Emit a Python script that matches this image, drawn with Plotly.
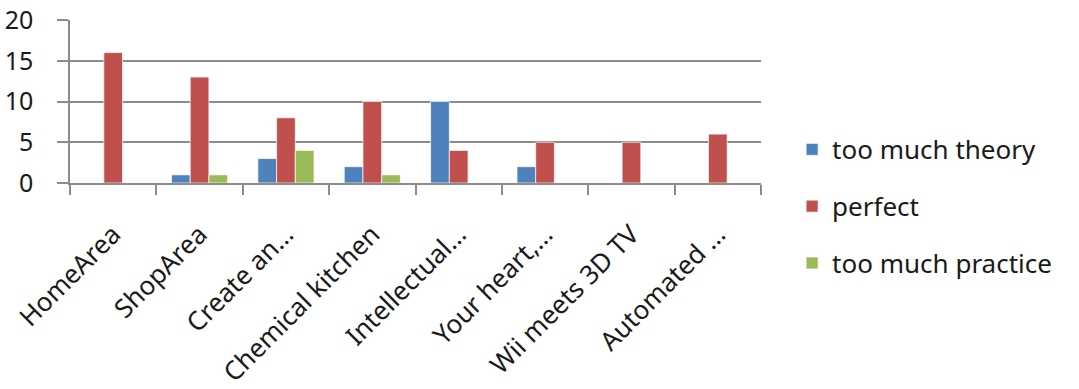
import plotly.graph_objects as go

categories = ["HomeArea", "ShopArea", "Create an…", "Chemical kitchen",
              "Intellectual…", "Your heart,…", "Wii meets 3D TV", "Automated …"]
too_much_theory = [0, 1, 3, 2, 10, 2, 0, 0]
perfect = [16, 13, 8, 10, 4, 5, 5, 6]
too_much_practice = [0, 1, 4, 1, 0, 0, 0, 0]
y_ticks = [0, 5, 10, 15, 20]

FONT = "Noto Sans"
GRID = "#8c8c8c"
TEXT = "#1a1a1a"

series = [
    ("too much theory", too_much_theory, "#4F81BD"),
    ("perfect", perfect, "#C0504D"),
    ("too much practice", too_much_practice, "#9BBB59"),
]

fig = go.Figure()
for i, (name, vals, color) in enumerate(series):
    fig.add_trace(go.Bar(
        x=categories, y=vals, name=name, legendgroup=f"g{i}",
        marker=dict(color=color, line=dict(color="rgba(255,255,255,0.7)", width=1)),
    ))

fig.update_layout(
    width=1079, height=389,
    margin=dict(l=70, r=318, t=20, b=206, autoexpand=False),
    paper_bgcolor="white", plot_bgcolor="white",
    barmode="group", bargap=0.35, bargroupgap=0,
    font=dict(family=FONT, size=26, color=TEXT),
    showlegend=True,
    legend=dict(
        x=1.045, y=0.35, xanchor="left", yanchor="top",
        traceorder="grouped", tracegroupgap=20,
        font=dict(family=FONT, size=26, color=TEXT),
        itemwidth=30,
    ),
    xaxis=dict(
        type="category", tickson="boundaries", tickangle=-45, automargin=False,
        showline=True, linecolor=GRID, linewidth=1.5,
        ticks="outside", ticklen=10, tickcolor=GRID, tickwidth=1.5,
        showgrid=False, ticklabelstandoff=24,
        tickfont=dict(family=FONT, size=26, color=TEXT),
    ),
    yaxis=dict(
        range=[0, 20], tickvals=y_ticks, automargin=False,
        showgrid=True, gridcolor=GRID, gridwidth=1.5,
        showline=True, linecolor=GRID, linewidth=1.5,
        ticks="outside", ticklen=11, tickcolor=GRID, tickwidth=1.5,
        zeroline=False, ticklabelstandoff=19,
        tickfont=dict(family=FONT, size=25, color=TEXT),
    ),
)

fig.write_html("out.html")
